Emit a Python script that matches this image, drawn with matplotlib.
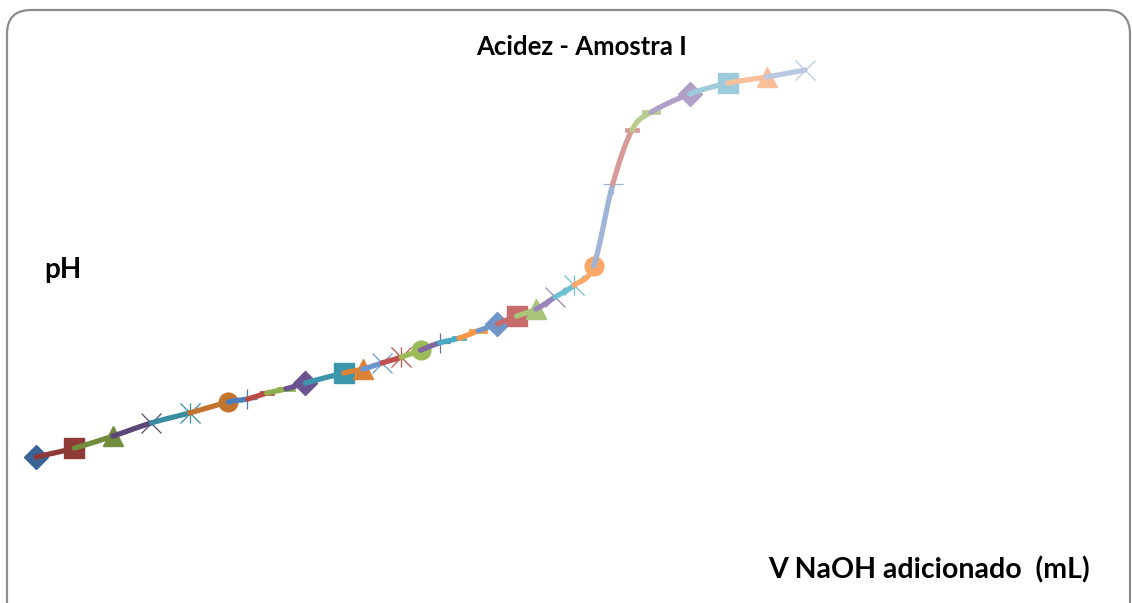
import numpy as np
import matplotlib
matplotlib.use("Agg")
import matplotlib.pyplot as plt
from matplotlib.path import Path
from matplotlib.patches import FancyBboxPatch

# Titration data: added NaOH volume (mL) and measured pH
volume_ml = [0, 1, 2, 3, 4, 5, 5.5, 6, 6.5, 7, 8, 8.5, 9, 9.5, 10, 10.5,
             11, 11.5, 12, 12.5, 13, 13.5, 14, 14.5, 15, 15.5, 16, 17, 18, 19, 20]
ph = [2.50, 2.73, 3.04, 3.38, 3.64, 3.92, 4.00, 4.15, 4.26, 4.41, 4.67, 4.77,
      4.93, 5.08, 5.26, 5.45, 5.57, 5.76, 5.94, 6.14, 6.32, 6.63, 6.94, 7.44,
      9.55, 10.95, 11.41, 11.88, 12.16, 12.32, 12.50]

title = "Acidez - Amostra I"
y_label = "pH"
x_label = "V NaOH adicionado  (mL)"

# One colour per reading (spreadsheet-style automatic series colours)
point_colors = [
    "#3B6597", "#8E3A37", "#728C3E", "#5C4778", "#3A8CA1", "#C2732C",
    "#4A7EBB", "#B84A47", "#8DB04A", "#6B5290", "#3B95AB", "#DB8237",
    "#6A97D0", "#C0504D", "#9BBB59", "#7F67A0", "#4BACC6", "#F79646",
    "#7096C8", "#C86B6B", "#A8C578", "#9A85B8", "#70C0D4", "#F9A86A",
    "#A0B4D8", "#D69A98", "#B8CC90", "#B0A0C8", "#9DCBDB", "#F9BF9A",
    "#B9C8E0",
]

# Marker shapes
star_path = Path(
    [(-1, -1), (1, 1), (-1, 1), (1, -1), (0, -1), (0, 1)],
    [Path.MOVETO, Path.LINETO, Path.MOVETO, Path.LINETO, Path.MOVETO, Path.LINETO],
)
short_dash = Path([(-1, -0.34), (1, -0.34), (1, 0.34), (-1, 0.34), (-1, -0.34)], closed=True)
long_dash = Path([(-1, -0.26), (1, -0.26), (1, 0.26), (-1, 0.26), (-1, -0.26)], closed=True)

marker_cycle = [
    dict(marker="D", ms=12.0, mew=1.0, filled=True),
    dict(marker="s", ms=14.0, mew=1.0, filled=True),
    dict(marker="^", ms=14.5, mew=1.0, filled=True),
    dict(marker="x", ms=14.5, mew=0.9, filled=False),
    dict(marker=star_path, ms=14.5, mew=0.9, filled=False),
    dict(marker="o", ms=13.5, mew=1.0, filled=True),
    dict(marker="+", ms=14.5, mew=0.9, filled=False),
    dict(marker=short_dash, ms=10.0, mew=0.5, filled=True),
    dict(marker=long_dash, ms=13.0, mew=0.5, filled=True),
]

W, H = 1132, 603
fig = plt.figure(figsize=(W / 100, H / 100), dpi=100)
fig.patch.set_facecolor("white")

# Background layer in pixel units: frame and texts
bg = fig.add_axes([0, 0, 1, 1])
bg.set_xlim(0, W)
bg.set_ylim(H, 0)
bg.axis("off")
frame = FancyBboxPatch((7, 10), 1123, 640, boxstyle="round,pad=0,rounding_size=24",
                       facecolor="white", edgecolor="#8C8C8C", linewidth=1.6)
bg.add_patch(frame)
text_font = ["Lato", "DejaVu Sans"]
bg.text(582, 47, title, ha="center", va="center", fontsize=18.5, fontweight="bold",
        family=text_font, color="#000000")
bg.text(44, 270, y_label, ha="left", va="center", fontsize=20, fontweight="bold",
        family=text_font, color="#000000")
bg.text(768, 570, x_label, ha="left", va="center", fontsize=20.5, fontweight="bold",
        family=text_font, color="#000000")

# Data layer
ax = fig.add_axes([0, 0, 1, 1])
ax.patch.set_alpha(0)
ax.axis("off")
px_per_ml = 38.45
px_per_ph = 38.7
ax.set_xlim(-36 / px_per_ml, (W - 36) / px_per_ml)
ax.set_ylim(2.5 - (H - 457) / px_per_ph, 2.5 + 457 / px_per_ph)

# Smoothed line (Catmull-Rom / Bezier smoothing), coloured piece by piece
x = np.asarray(volume_ml, float)
y = np.asarray(ph, float)
n = len(x)
px = np.concatenate([[2 * x[0] - x[1]], x, [2 * x[-1] - x[-2]]])
py = np.concatenate([[2 * y[0] - y[1]], y, [2 * y[-1] - y[-2]]])
t = np.linspace(0, 1, 30)
for i in range(1, n):
    p0 = np.array([px[i - 1], py[i - 1]])
    p1 = np.array([px[i], py[i]])
    p2 = np.array([px[i + 1], py[i + 1]])
    p3 = np.array([px[i + 2], py[i + 2]])
    c1 = p1 + (p2 - p0) / 6
    c2 = p2 - (p3 - p1) / 6
    tt = t[:, None]
    seg = ((1 - tt) ** 3) * p1 + 3 * ((1 - tt) ** 2) * tt * c1 + 3 * (1 - tt) * tt ** 2 * c2 + tt ** 3 * p2
    ax.plot(seg[:, 0], seg[:, 1], color=point_colors[i], lw=3.8,
            solid_capstyle="round", zorder=2 + 2 * i)

for i in range(n):
    m = marker_cycle[i % len(marker_cycle)]
    c = point_colors[i]
    ax.plot([x[i]], [y[i]], linestyle="none", marker=m["marker"], markersize=m["ms"],
            markerfacecolor=c if m["filled"] else "none", markeredgecolor=c,
            markeredgewidth=m["mew"], zorder=3 + 2 * i)

fig.savefig("out.png", dpi=100, facecolor="white")
